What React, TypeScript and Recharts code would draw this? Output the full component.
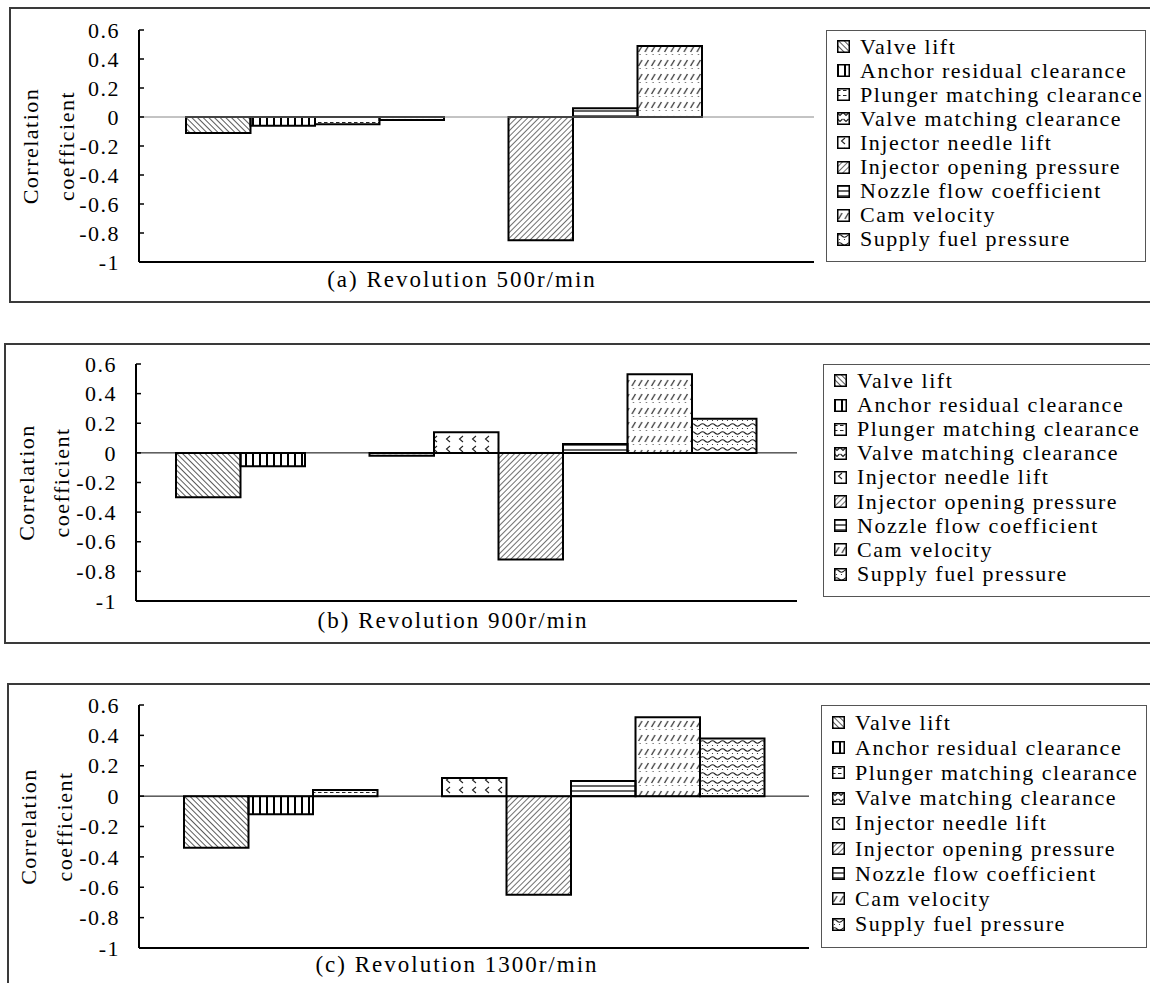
import React from "react";
import { Bar, BarChart, Legend, ReferenceLine, XAxis, YAxis } from "recharts";

// series (legend order = bar order)
const SERIES = [
  "Valve lift",
  "Anchor residual clearance",
  "Plunger matching clearance",
  "Valve matching clearance",
  "Injector needle lift",
  "Injector opening pressure",
  "Nozzle flow coefficient",
  "Cam velocity",
  "Supply fuel pressure",
];
const SERIES_KEYS = ["valveLift", "anchor", "plunger", "valveMatch", "needleLift", "openingPressure", "nozzleFlow", "camVelocity", "supplyPressure"];
const PATTERN_IDS = ["pt-valve", "pt-anchor", "pt-plunger", "pt-vmatch", "pt-needle", "pt-opening", "pt-nozzle", "pt-cam", "pt-supply"];

// correlation coefficients
const REV_500 = [-0.11, -0.06, -0.05, -0.02, 0, -0.85, 0.06, 0.49, 0];
const REV_900 = [-0.3, -0.09, 0, -0.02, 0.14, -0.72, 0.06, 0.53, 0.23];
const REV_1300 = [-0.34, -0.12, 0.04, 0, 0.12, -0.65, 0.1, 0.52, 0.38];

const Y_TICKS = [0.6, 0.4, 0.2, 0, -0.2, -0.4, -0.6, -0.8, -1];
const TITLES = ["(a) Revolution 500r/min", "(b) Revolution 900r/min", "(c) Revolution 1300r/min"];

const SERIF = '"Liberation Serif", "Times New Roman", serif';

const toRow = (name: string, values: number[]) => {
  const row: Record<string, any> = { name };
  SERIES_KEYS.forEach((k, i) => (row[k] = values[i]));
  return row;
};

const PANELS = [
  { values: REV_500, title: TITLES[0], frame: { l: 9, t: 7, b: 303 }, plot: { l: 139, r: 814, t: 30, b: 262 }, legend: { l: 826, r: 1146, t: 30, b: 262 }, yLab: [30, 66], titleX: 462, titleY: 279, zero: "#888" },
  { values: REV_900, title: TITLES[1], frame: { l: 4, t: 343, b: 644 }, plot: { l: 136, r: 797, t: 364, b: 601 }, legend: { l: 823, r: 1162, t: 364, b: 597 }, yLab: [26, 61], titleX: 453, titleY: 620, zero: "#000" },
  { values: REV_1300, title: TITLES[2], frame: { l: 7, t: 683, b: 1010 }, plot: { l: 139, r: 809, t: 705, b: 948 }, legend: { l: 821, r: 1147, t: 705, b: 948 }, yLab: [28.5, 64], titleX: 457, titleY: 964, zero: "#000" },
];

function Patterns() {
  const ink = "#222";
  return (
    <svg width={0} height={0} style={{ position: "absolute" }}>
      <defs>
        <pattern id="pt-valve" width={4} height={4} patternUnits="userSpaceOnUse" patternTransform="rotate(-45)">
          <line x1={0} y1={0} x2={0} y2={4} stroke={ink} strokeWidth={1.5} />
        </pattern>
        <pattern id="pt-anchor" width={7} height={7} patternUnits="userSpaceOnUse">
          <line x1={1} y1={0} x2={1} y2={7} stroke="#000" strokeWidth={2} />
        </pattern>
        <pattern id="pt-plunger" width={6} height={5} patternUnits="userSpaceOnUse">
          <line x1={0} y1={2.5} x2={3.5} y2={2.5} stroke={ink} strokeWidth={1} />
        </pattern>
        <pattern id="pt-vmatch" width={6} height={6} patternUnits="userSpaceOnUse">
          <path d="M0.5 1 L3 3.5 L5.5 1" stroke={ink} strokeWidth={1.2} fill="none" />
        </pattern>
        <pattern id="pt-needle" width={13} height={10} patternUnits="userSpaceOnUse">
          <path d="M8 2 L4.5 5 L8 8" stroke={ink} strokeWidth={1.1} fill="none" />
        </pattern>
        <pattern id="pt-opening" width={4} height={4} patternUnits="userSpaceOnUse" patternTransform="rotate(45)">
          <line x1={0} y1={0} x2={0} y2={4} stroke={ink} strokeWidth={1.3} />
        </pattern>
        <pattern id="pt-nozzle" width={6} height={5} patternUnits="userSpaceOnUse">
          <line x1={0} y1={1} x2={6} y2={1} stroke={ink} strokeWidth={1.4} />
        </pattern>
        <pattern id="pt-cam" width={6.5} height={14} patternUnits="userSpaceOnUse">
          <line x1={1.5} y1={10} x2={5} y2={4} stroke={ink} strokeWidth={1.2} />
          <circle cx={3} cy={12.5} r={0.6} fill={ink} />
        </pattern>
        <pattern id="pt-supply" width={10} height={8} patternUnits="userSpaceOnUse">
          <path d="M0 3 Q2.5 0.5 5 3 T10 3" stroke={ink} strokeWidth={1.1} fill="none" />
          <circle cx={2.5} cy={6.5} r={0.6} fill={ink} />
          <circle cx={7.5} cy={6.5} r={0.6} fill={ink} />
        </pattern>
      </defs>
    </svg>
  );
}

const makeLegend = (w: number, h: number) => (props: any) => {
  // keep the series order instead of the alphabetical default
  const items = [...(props.payload ?? [])].sort((a: any, b: any) => SERIES.indexOf(a.value) - SERIES.indexOf(b.value));
  const step = h / 9.65;
  return (
    <div style={{ position: "relative", width: w, height: h, border: "1px solid #555", boxSizing: "border-box", background: "#fff", fontFamily: SERIF, fontSize: 22, letterSpacing: 1.5, color: "#000" }}>
      {items.map((item: any, i: number) => {
        const idx = Math.max(0, SERIES.indexOf(item.value));
        return (
          <div key={item.value} style={{ position: "absolute", left: 0, top: step * 0.7 + i * step - step / 2 - 1, height: step, display: "flex", alignItems: "center", whiteSpace: "nowrap" }}>
            <svg width={13} height={13} style={{ marginLeft: 10, marginRight: 10, flex: "none" }}>
              <rect x={0.75} y={0.75} width={11.5} height={11.5} fill={`url(#${PATTERN_IDS[idx]})`} stroke="#000" strokeWidth={1.5} />
            </svg>
            <span style={{ lineHeight: 1 }}>{item.value}</span>
          </div>
        );
      })}
    </div>
  );
};

function Panel({ cfg }: { cfg: (typeof PANELS)[number] }) {
  const { frame, plot, legend } = cfg;
  const chartTop = plot.t - 30;
  const chartW = 1170;
  const chartH = plot.b - chartTop + 40;
  const data = [toRow(cfg.title, cfg.values)];
  const midY = 30 + (plot.b - plot.t) / 2;
  const border = { stroke: "#000", strokeWidth: 2 };

  const yTick = (p: any) => (
    <g>
      <line x1={p.x + 19} x2={p.x + 24} y1={p.y} y2={p.y} stroke="#000" strokeWidth={1.5} />
      <text x={p.x} y={p.y} dy="0.35em" textAnchor="end" fontFamily={SERIF} fontSize={22} letterSpacing={1.5} fill="#000">
        {String(p.payload.value)}
      </text>
    </g>
  );

  return (
    <>
      <div style={{ position: "absolute", left: frame.l, top: frame.t, width: 1300, height: frame.b - frame.t, border: "2px solid #3a3a3a", boxSizing: "border-box" }} />
      <div style={{ position: "absolute", left: 0, top: chartTop }}>
        <BarChart width={chartW} height={chartH} data={data} margin={{ top: 30, right: chartW - plot.r, bottom: 0, left: 0 }} barGap={0} barSize={64.5}>
          <XAxis
            dataKey="name"
            height={40}
            tick={false}
            tickLine={false}
            axisLine={border}
            label={{
              content: () => (
                <text x={cfg.titleX} y={cfg.titleY - chartTop} textAnchor="middle" dominantBaseline="central" fontFamily={SERIF} fontSize={23} letterSpacing={2} fill="#000">
                  {cfg.title}
                </text>
              ),
            }}
          />
          <XAxis xAxisId="top" orientation="top" dataKey="name" height={0} tick={false} tickLine={false} axisLine={border} />
          <YAxis
            domain={[-1, 0.6]}
            ticks={Y_TICKS}
            interval={0}
            width={plot.l}
            tickSize={0}
            tickMargin={19}
            tick={yTick}
            axisLine={border}
            label={{
              content: () => (
                <g fontFamily={SERIF} fontSize={22} letterSpacing={1.5} fill="#000">
                  <text x={cfg.yLab[0]} y={midY} transform={`rotate(-90, ${cfg.yLab[0]}, ${midY})`} textAnchor="middle" dominantBaseline="central">
                    Correlation
                  </text>
                  <text x={cfg.yLab[1]} y={midY} transform={`rotate(-90, ${cfg.yLab[1]}, ${midY})`} textAnchor="middle" dominantBaseline="central">
                    coefficient
                  </text>
                </g>
              ),
            }}
          />
          <YAxis yAxisId="right" orientation="right" width={0} domain={[-1, 0.6]} tick={false} tickLine={false} axisLine={border} />
          <ReferenceLine y={0} stroke={cfg.zero} strokeWidth={1} />
          {SERIES_KEYS.map((k, i) => (
            <Bar key={k} dataKey={k} name={SERIES[i]} fill={`url(#${PATTERN_IDS[i]})`} stroke="#000" strokeWidth={2} isAnimationActive={false} />
          ))}
          <Legend
            layout="vertical"
            align="center"
            verticalAlign="middle"
            wrapperStyle={{ left: legend.l, top: legend.t - chartTop, width: legend.r - legend.l, height: legend.b - legend.t }}
            content={makeLegend(legend.r - legend.l, legend.b - legend.t)}
          />
        </BarChart>
      </div>
    </>
  );
}

export default function App() {
  return (
    <div style={{ position: "absolute", left: 0, top: 0, width: 1150, height: 983, overflow: "hidden", background: "#fff", fontFamily: SERIF }}>
      <Patterns />
      {PANELS.map((cfg) => (
        <Panel key={cfg.title} cfg={cfg} />
      ))}
    </div>
  );
}
